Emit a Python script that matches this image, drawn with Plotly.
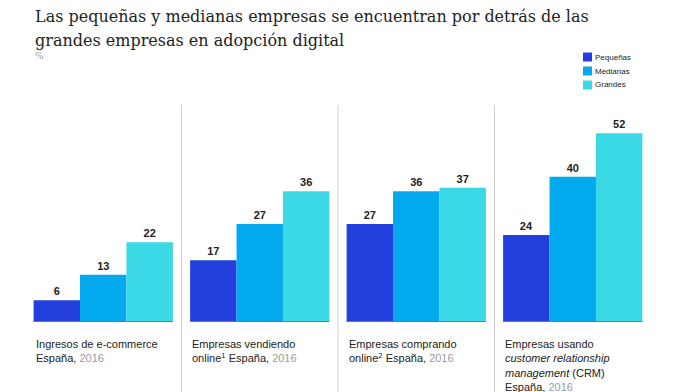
import plotly.graph_objects as go

categories = [
    "Ingresos de e-commerce<br>España, <span style='color:#9a9a9a'>2016</span>",
    "Empresas vendiendo<br>online<sup>1</sup> España, <span style='color:#9a9a9a'>2016</span>",
    "Empresas comprando<br>online<sup>2</sup> España, <span style='color:#9a9a9a'>2016</span>",
    "Empresas usando<br><i>customer relationship</i><br><i>management</i> (CRM)<br>España, <span style='color:#9a9a9a'>2016</span>",
]
series_names = ["Pequeñas", "Medianas", "Grandes"]
pequenas = [6, 17, 27, 24]
medianas = [13, 27, 36, 40]
grandes = [22, 36, 37, 52]
series_values = [pequenas, medianas, grandes]
colors = ["#2340DE", "#03A9EE", "#3BD8E6"]
title_lines = ["Las pequeñas y medianas empresas se encuentran por detrás de las",
               "grandes empresas en adopción digital"]

W, H = 680, 392
OFF = 8  # page body margin: figure pixel = screen pixel - OFF
# plot area in screen pixels: x 25..651, y 105..322
L = 25 - OFF
R = W - (651 - OFF)
T = 105 - OFF
B = H - (322 - OFF)
plot_h = H - T - B
plot_w = W - L - R
YMAX = 59.8


def py(ypx):
    """screen pixel y (from top) -> paper y"""
    return (H - B - (ypx - OFF)) / plot_h


def px(xpx):
    return (xpx - OFF - L) / plot_w


x_idx = list(range(len(categories)))

fig = go.Figure()
for name, vals, col in zip(series_names, series_values, colors):
    fig.add_trace(go.Bar(
        x=x_idx, y=vals, name=name, marker=dict(color=col, line=dict(width=0)),
        text=[f"<b>{v}</b>" for v in vals], textposition="outside",
        textfont=dict(family="Liberation Sans, Arial", size=11, color="#222222"),
        cliponaxis=False, showlegend=False,
    ))

shapes = []
for i in x_idx:
    shapes.append(dict(type="line", xref="x", yref="y", x0=i - 0.445, x1=i + 0.445,
                       y0=0, y1=0, line=dict(color="#777777", width=2), layer="above"))
for i in x_idx[:-1]:
    shapes.append(dict(type="line", xref="x", yref="paper", x0=i + 0.5, x1=i + 0.5,
                       y0=py(H + 10), y1=1, line=dict(color="#cfcfcf", width=1)))

annotations = []
for i, c in zip(x_idx, categories):
    annotations.append(dict(x=i - 0.445, xref="x", xanchor="left", y=py(336), yref="paper",
                            yanchor="top", text=c, showarrow=False, align="left",
                            font=dict(family="Liberation Sans, Arial", size=11, color="#222222")))

# title
for k, line in enumerate(title_lines):
    annotations.append(dict(x=px(33), xref="paper", y=py(16 + 24 * k), yref="paper",
                            xanchor="left", yanchor="middle", text=line, showarrow=False,
                            font=dict(family="DejaVu Serif, serif", size=16, color="#222222")))
annotations.append(dict(x=px(33), xref="paper", y=py(55), yref="paper",
                        xanchor="left", yanchor="middle", text="%", showarrow=False,
                        font=dict(family="Liberation Serif, serif", size=10, color="#999999")))

# legend
for k, (name, col) in enumerate(zip(series_names, colors)):
    yc = 57 + 14 * k
    shapes.append(dict(type="rect", xref="paper", yref="paper", x0=px(583), x1=px(592),
                       y0=py(yc + 4.5), y1=py(yc - 4.5), fillcolor=col, line=dict(width=0)))
    annotations.append(dict(x=px(593), xref="paper", y=py(yc), yref="paper",
                            xanchor="left", yanchor="middle", text=name, showarrow=False,
                            font=dict(family="Liberation Sans, Arial", size=8, color="#222222")))

fig.update_layout(
    width=W, height=H,
    margin=dict(l=L, r=R, t=T, b=B, autoexpand=False),
    paper_bgcolor="white", plot_bgcolor="white",
    barmode="group", bargap=0.11, bargroupgap=0,
    xaxis=dict(range=[-0.5, 3.5], showticklabels=False, showgrid=False, zeroline=False, ticks=""),
    yaxis=dict(range=[0, YMAX], showticklabels=False, showgrid=False, zeroline=False, ticks=""),
    shapes=shapes, annotations=annotations,
    showlegend=False,
)
fig.write_html("out.html")
